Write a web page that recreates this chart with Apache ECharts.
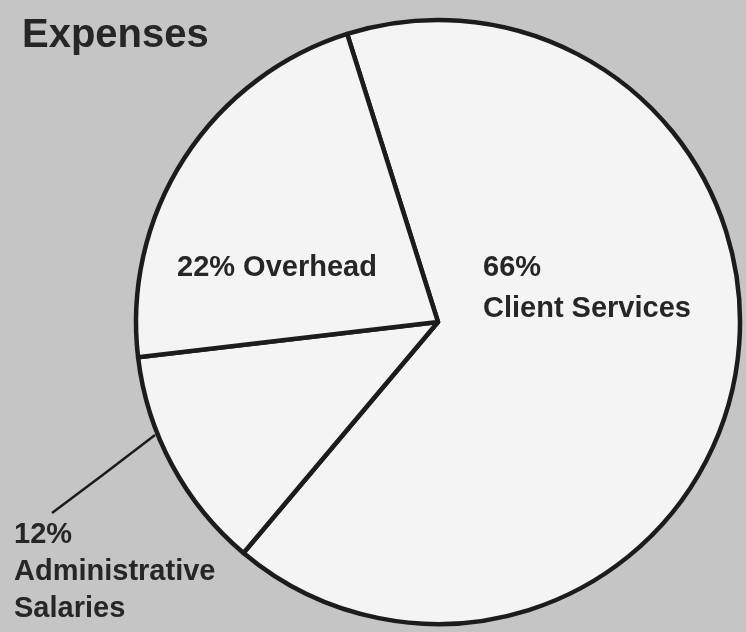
<!DOCTYPE html>
<html><head><meta charset="utf-8">
<script src="https://cdn.jsdelivr.net/npm/echarts@6/dist/echarts.min.js"></script>
<style>html,body{margin:0;padding:0;background:#c5c5c5}#chart{width:746px;height:632px}</style>
</head><body><div id="chart"></div>
<script>
const titleText = 'Expenses';
const categories = ['Client Services', 'Administrative\nSalaries', 'Overhead'];
const values = [66, 12, 22];
const labelFormats = ['{c}%\n{b}', '{c}%\n{b}', '{c}% {b}'];

const labelLayouts = [
  { x: 483, y: 247, align: 'left', verticalAlign: 'top' },
  { x: 14, y: 516, align: 'left', verticalAlign: 'top', labelLinePoints: [[155, 435], [104, 474], [52, 513]] },
  { x: 177, y: 268, align: 'left', verticalAlign: 'middle' }
];
const lineHeights = [41, 37, 40];

const chart = echarts.init(document.getElementById('chart'), null, { renderer: 'canvas' });
const txt = { fontFamily: 'Liberation Sans', fontWeight: 'bold', fontSize: 29, color: '#262626' };

chart.setOption({
  animation: false,
  backgroundColor: '#c5c5c5',
  title: {
    text: titleText, left: 17, top: 11,
    textStyle: { fontFamily: 'Liberation Sans', fontWeight: 'bold', fontSize: 40, color: '#262626' }
  },
  series: [{
    type: 'pie',
    center: [438, 322],
    radius: 302,
    startAngle: 107.5,
    clockwise: true,
    silent: true,
    itemStyle: { color: '#f4f4f4', borderColor: '#1c1c1c', borderWidth: 4.5 },
    data: categories.map((name, i) => ({
      name: name,
      value: values[i],
      label: Object.assign({
        show: true,
        position: i === 1 ? 'outside' : 'inside',
        formatter: labelFormats[i],
        lineHeight: lineHeights[i],
        overflow: 'none',
        width: 260
      }, txt),
      labelLine: { show: i === 1, lineStyle: { color: '#1c1c1c', width: 2.5 } }
    })),
    labelLayout: function (params) { return labelLayouts[params.dataIndex]; }
  }]
});
</script></body></html>
